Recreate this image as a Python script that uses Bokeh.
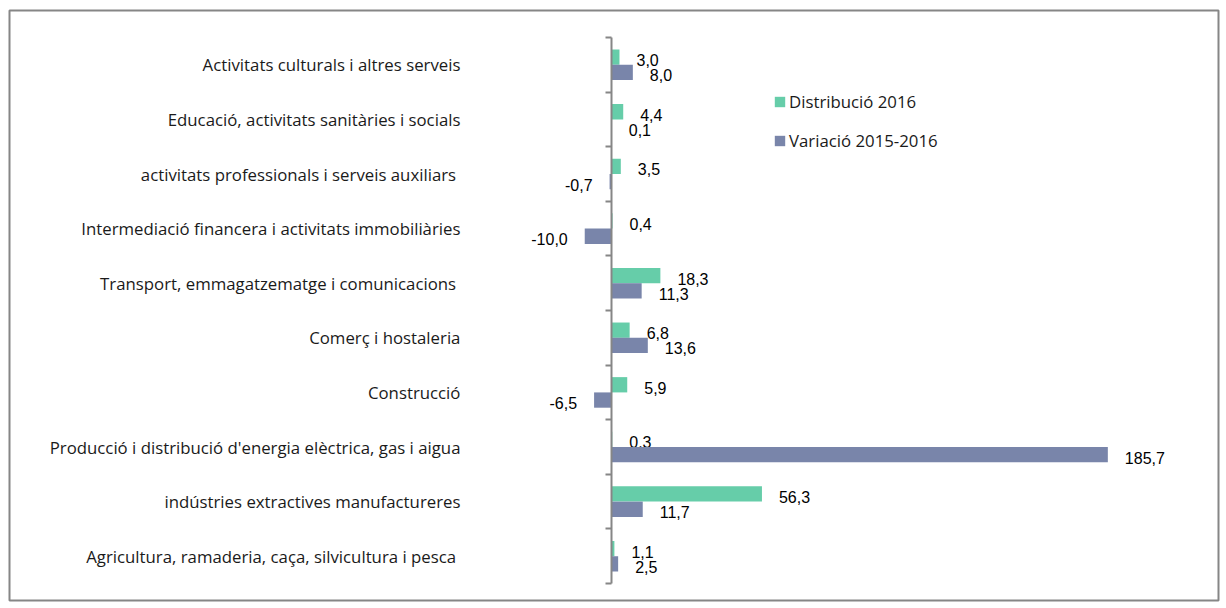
from bokeh.plotting import figure
from bokeh.models import (Range1d, FixedTicker, Legend, LegendItem, ColumnDataSource,
                          CDSView, BooleanFilter)
from bokeh.embed import file_html
from bokeh.resources import INLINE
from bokeh.core.properties import value
from bokeh.transform import dodge

# ---- data (top to bottom as shown in the chart) ----
categories = [
    "Activitats culturals i altres serveis",
    "Educació, activitats sanitàries i socials",
    "activitats professionals i serveis  auxiliars",
    "Intermediació financera i activitats immobiliàries",
    "Transport, emmagatzematge  i comunicacions",
    "Comerç i hostaleria",
    "Construcció",
    "Producció i distribució d'energia elèctrica, gas i aigua",
    "indústries extractives manufactureres",
    "Agricultura, ramaderia, caça, silvicultura  i pesca",
]
distribucio_2016 = [3.0, 4.4, 3.5, 0.4, 18.3, 6.8, 5.9, 0.3, 56.3, 1.1]
variacio_2015_2016 = [8.0, 0.1, -0.7, -10.0, 11.3, 13.6, -6.5, 185.7, 11.7, 2.5]
series_names = ["Distribució 2016", "Variació 2015-2016"]
series_colors = ["#66CDA9", "#7985AA"]

n = len(categories)
ypos = [n - 1 - i for i in range(n)]


def fmt(v):
    return f"{v:.1f}".replace(".", ",")


p = figure(width=1220, height=602,
           x_range=Range1d(-225.2, 227.1), y_range=Range1d(-0.811, 9.9945),
           output_backend="svg", toolbar_location=None,
           min_border_left=9, min_border_top=10, min_border_right=2, min_border_bottom=2)
p.xaxis.visible = False
p.xgrid.visible = False
p.ygrid.visible = False
p.outline_line_color = "#868686"
p.outline_line_width = 2
p.background_fill_color = "white"
p.border_fill_color = "white"

offsets = [0.14, -0.14]
renderers = []
for vals, off, col in zip([distribucio_2016, variacio_2015_2016], offsets, series_colors):
    src = ColumnDataSource(dict(y=ypos, v=vals, label=[fmt(v) for v in vals]))
    r = p.hbar(y=dodge("y", off), left=0, right="v", height=0.28, source=src,
               fill_color=col, line_color=None)
    renderers.append(r)
    for positive in (True, False):
        mask = [(v >= 0) == positive for v in vals]
        if not any(mask):
            continue
        p.text(x="v", y=dodge("y", off), text="label", source=src,
               view=CDSView(filter=BooleanFilter(mask)),
               x_offset=17 if positive else -17, y_offset=3,
               text_align="left" if positive else "right", text_baseline="middle",
               text_font=value("Liberation Sans"), text_font_size="16px",
               text_color="black")

ax = p.yaxis[0]
ax.fixed_location = 0
ax.ticker = FixedTicker(ticks=ypos, minor_ticks=[k - 0.5 for k in range(n + 1)])
ax.major_label_overrides = {y: c for y, c in zip(ypos, categories)}
ax.bounds = (-0.5, n - 0.5)
ax.major_tick_out = 0
ax.major_tick_in = 0
ax.minor_tick_out = 6
ax.minor_tick_in = 0
ax.minor_tick_line_color = "#868686"
ax.minor_tick_line_width = 2
ax.axis_line_color = "#868686"
ax.axis_line_width = 2
ax.major_label_standoff = 145
ax.major_label_text_font = "Open Sans"
ax.major_label_text_font_size = "16.8px"
ax.major_label_text_color = "#1a1a1a"

legend = Legend(items=[LegendItem(label=series_names[0], renderers=[renderers[0]]),
                       LegendItem(label=series_names[1], renderers=[renderers[1]])],
                location=(764, 448), glyph_width=13, glyph_height=13, label_standoff=3,
                spacing=16, padding=0, margin=0, border_line_color=None,
                background_fill_alpha=0, label_text_font="Open Sans",
                label_text_font_size="16.8px", label_text_color="#1a1a1a")
p.add_layout(legend)

open("out.html", "w").write(file_html(p, INLINE))
